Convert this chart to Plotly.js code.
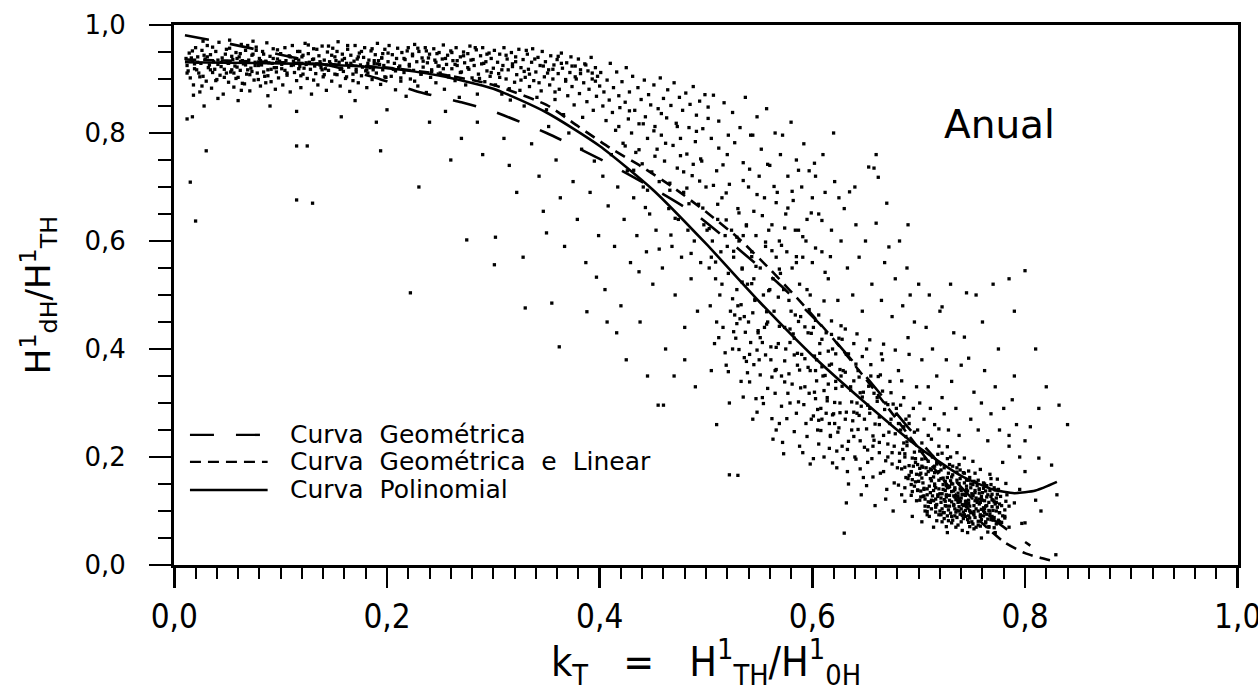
<!DOCTYPE html>
<html><head><meta charset="utf-8">
<script src="https://cdn.plot.ly/plotly-3.0.1.min.js"></script>
<style>html,body{margin:0;padding:0;background:#fff}#chart{width:1258px;height:692px}</style>
</head><body><div id="chart"></div>
<script>
// ---- fitted curves ----
const polyX = [0.01,0.05,0.10,0.15,0.20,0.25,0.30,0.35,0.40,0.45,0.50,0.55,0.60,0.65,0.70,0.74,0.77,0.79,0.81,0.83];
const polyY = [0.931,0.930,0.929,0.926,0.920,0.906,0.882,0.838,0.776,0.695,0.595,0.488,0.388,0.300,0.218,0.165,0.140,0.133,0.138,0.154];
const geoX = [0.01,0.05,0.10,0.15,0.19,0.23,0.27,0.30,0.35,0.40,0.45,0.49,0.53,0.57,0.61,0.65,0.69,0.73,0.77,0.805];
const geoY = [0.981,0.966,0.945,0.923,0.902,0.876,0.857,0.840,0.800,0.752,0.698,0.650,0.586,0.518,0.440,0.350,0.255,0.165,0.085,0.036];
const geoLinX = [0.01,0.05,0.10,0.15,0.20,0.25,0.30,0.35,0.38,0.41,0.44,0.47,0.50,0.53,0.56,0.59,0.62,0.65,0.68,0.71,0.74,0.76,0.78,0.80,0.815,0.83];
const geoLinY = [0.936,0.934,0.931,0.927,0.921,0.909,0.889,0.852,0.812,0.772,0.737,0.698,0.654,0.606,0.548,0.485,0.418,0.345,0.268,0.190,0.118,0.077,0.043,0.022,0.013,0.006];

const seriesNames = ['Curva\u00a0\u00a0Geométrica','Curva\u00a0\u00a0Geométrica\u00a0\u00a0e\u00a0\u00a0Linear','Curva\u00a0\u00a0Polinomial'];
const panelLabel = 'Anual';
const xTickVals = [0,0.2,0.4,0.6,0.8,1.0];
const xTickText = ['0,0','0,2','0,4','0,6','0,8','1,0'];
const yTickVals = [0,0.2,0.4,0.6,0.8,1.0];
const yTickText = ['0,0','0,2','0,4','0,6','0,8','1,0'];

// ---- measured daily points (kT, Hd/H), read region by region ----
const ptsBand1 = [[.012,.925],[.014,.948],[.015,.902],[.017,.934],[.018,.889],[.02,.958],[.021,.917],[.022,.941],[.024,.876],[.025,.929],[.026,.953],[.027,.905],[.029,.937],[.03,.896],[.031,.962],[.032,.921],[.034,.945],[.035,.883],[.036,.912],[.037,.932],[.039,.951],[.04,.899],[.041,.927],[.042,.968],[.043,.907],[.045,.939],[.046,.872],[.047,.918],[.048,.946],[.05,.93],[.051,.894],[.052,.957],[.053,.913],[.055,.936],[.056,.885],[.057,.924],[.058,.949],[.06,.903],[.061,.941],[.062,.916],[.063,.964],[.065,.928],[.066,.891],[.067,.953],[.068,.909],[.07,.935],[.071,.878],[.072,.92],[.073,.944],[.075,.898],[.076,.931],[.077,.959],[.078,.911],[.08,.938],[.081,.887],[.082,.926],[.083,.951],[.085,.905],[.086,.933],[.087,.967],[.088,.917],[.09,.942],[.091,.895],[.092,.929],[.093,.956],[.095,.881],[.096,.913],[.097,.937],[.098,.902],[.1,.947],[.013,.915],[.016,.939],[.019,.928],[.023,.911],[.028,.944],[.033,.926],[.038,.918],[.044,.931],[.049,.911],[.054,.942],[.059,.922],[.064,.934],[.069,.917],[.074,.946],[.079,.925],[.084,.913],[.089,.93],[.094,.921],[.099,.933],[.018,.87],[.041,.864],[.063,.879],[.088,.869],[.052,.972],[.027,.97],[.074,.97]];
const ptsBand2 = [[.101,.919],[.102,.889],[.104,.958],[.105,.934],[.106,.907],[.108,.943],[.109,.876],[.11,.925],[.111,.962],[.113,.912],[.114,.938],[.115,.897],[.116,.951],[.118,.923],[.119,.884],[.12,.941],[.121,.909],[.123,.966],[.124,.93],[.125,.901],[.126,.947],[.128,.918],[.129,.872],[.13,.936],[.131,.956],[.133,.91],[.134,.928],[.135,.889],[.136,.943],[.138,.921],[.139,.961],[.14,.904],[.141,.935],[.143,.879],[.144,.95],[.145,.916],[.146,.932],[.148,.896],[.149,.957],[.15,.925],[.151,.941],[.153,.908],[.154,.969],[.155,.931],[.156,.887],[.158,.946],[.159,.914],[.16,.938],[.161,.901],[.163,.955],[.164,.922],[.165,.877],[.166,.944],[.168,.909],[.169,.933],[.17,.962],[.171,.918],[.173,.893],[.174,.948],[.175,.926],[.176,.906],[.178,.94],[.179,.958],[.18,.915],[.181,.884],[.183,.935],[.184,.921],[.185,.952],[.186,.899],[.188,.929],[.189,.945],[.19,.911],[.191,.966],[.193,.927],[.194,.89],[.195,.939],[.196,.917],[.198,.955],[.199,.903],[.103,.93],[.112,.926],[.117,.935],[.122,.92],[.127,.931],[.132,.924],[.137,.932],[.142,.919],[.147,.928],[.152,.934],[.157,.92],[.162,.929],[.167,.925],[.172,.937],[.177,.922],[.182,.929],[.187,.917],[.192,.934],[.197,.925]];
const ptsBand3 = [[.201,.932],[.202,.962],[.204,.905],[.205,.945],[.206,.918],[.208,.88],[.209,.938],[.21,.957],[.212,.924],[.213,.896],[.214,.949],[.216,.912],[.217,.936],[.218,.868],[.22,.958],[.221,.927],[.222,.9],[.224,.943],[.225,.916],[.226,.964],[.228,.932],[.229,.887],[.23,.951],[.232,.909],[.233,.939],[.234,.922],[.236,.958],[.237,.875],[.238,.93],[.24,.946],[.241,.903],[.242,.917],[.244,.956],[.245,.935],[.246,.893],[.248,.924],[.249,.949],[.25,.911],[.252,.937],[.253,.963],[.254,.881],[.256,.927],[.257,.944],[.258,.906],[.26,.952],[.261,.919],[.262,.934],[.264,.897],[.265,.958],[.266,.925],[.268,.866],[.269,.941],[.27,.913],[.272,.95],[.273,.93],[.274,.889],[.276,.947],[.277,.918],[.278,.961],[.28,.902],[.281,.936],[.282,.925],[.284,.954],[.285,.872],[.286,.909],[.288,.943],[.289,.928],[.29,.958],[.292,.895],[.293,.932],[.294,.915],[.296,.948],[.297,.905],[.298,.938],[.3,.92]];
const ptsBand4 = [[.301,.953],[.302,.889],[.304,.931],[.305,.91],[.306,.946],[.308,.872],[.309,.925],[.31,.958],[.312,.9],[.313,.937],[.314,.917],[.316,.861],[.317,.949],[.318,.928],[.32,.894],[.321,.941],[.322,.908],[.324,.955],[.325,.879],[.326,.921],[.328,.936],[.329,.85],[.33,.903],[.332,.946],[.333,.918],[.334,.886],[.336,.931],[.337,.956],[.338,.897],[.34,.913],[.341,.866],[.342,.94],[.344,.925],[.345,.878],[.346,.951],[.348,.904],[.349,.932],[.35,.843],[.352,.917],[.353,.889],[.354,.943],[.356,.9],[.357,.926],[.358,.862],[.36,.936],[.361,.91],[.362,.881],[.364,.948],[.365,.92],[.366,.834],[.368,.896],[.369,.93],[.37,.869],[.372,.912],[.373,.941],[.374,.886],[.376,.852],[.377,.924],[.378,.9],[.38,.937],[.381,.873],[.382,.91],[.384,.829],[.385,.893],[.386,.928],[.388,.858],[.389,.915],[.39,.881],[.392,.94],[.393,.9],[.394,.842],[.396,.921],[.397,.868],[.398,.905],[.4,.887]];
const ptsBandExtra = [[.034,.917],[.121,.944],[.058,.901],[.187,.921],[.246,.931],[.093,.938],[.151,.909],[.272,.943],[.017,.952],[.213,.902],[.076,.925],[.134,.955],[.298,.912],[.041,.935],[.168,.897],[.229,.957],[.104,.916],[.062,.947],[.195,.939],[.258,.904],[.012,.911],[.143,.926],[.086,.893],[.221,.924],[.283,.958],[.047,.903],[.176,.951],[.117,.919],[.239,.939],[.069,.962],[.158,.935],[.208,.915],[.026,.887],[.264,.927],[.097,.954],[.182,.911],[.131,.898],[.051,.929],[.247,.947],[.109,.941],[.291,.929],[.073,.914],[.163,.962],[.226,.896],[.036,.959],[.139,.917],[.201,.948],[.081,.934],[.269,.912],[.119,.906],[.054,.917],[.191,.928],[.253,.919],[.022,.931],[.148,.944],[.234,.933],[.101,.927],[.064,.892],[.173,.941],[.279,.935],[.044,.923],[.126,.963],[.216,.938],[.088,.906],[.156,.918],[.261,.949],[.031,.941],[.198,.904],[.112,.933],[.077,.953],[.242,.914],[.141,.908],[.186,.956],[.059,.938],[.287,.901],[.096,.921],[.166,.929],[.224,.946],[.019,.919],[.131,.937],[.207,.929],[.071,.908],[.255,.938],[.153,.951],[.039,.897],[.181,.917],[.118,.951],[.276,.921],[.084,.946],[.232,.909],[.011,.938],[.162,.904],[.106,.911],[.219,.952],[.049,.955],[.294,.946],[.137,.926],[.067,.926],[.188,.934],[.249,.924],[.024,.904],[.145,.961],[.211,.921],[.091,.918],[.171,.913],[.266,.934],[.056,.911],[.124,.927],[.237,.952],[.079,.899],[.196,.947],[.308,.917],[.321,.932],[.334,.909],[.347,.924],[.312,.944],[.326,.898],[.339,.937],[.351,.911],[.364,.929],[.377,.904],[.318,.923],[.343,.893],[.356,.918],[.368,.899],[.382,.917],[.396,.896],[.331,.953],[.361,.942],[.387,.926],[.306,.903],[.315,.882],[.329,.914],[.358,.876],[.374,.924],[.393,.911]];
const ptsUpperMid = [[.401,.912],[.403,.85],[.404,.876],[.406,.823],[.407,.898],[.409,.861],[.41,.929],[.412,.838],[.413,.884],[.415,.805],[.416,.913],[.418,.869],[.419,.847],[.421,.895],[.422,.781],[.424,.857],[.425,.921],[.427,.826],[.428,.876],[.43,.8],[.431,.905],[.433,.842],[.434,.764],[.436,.884],[.437,.817],[.439,.862],[.44,.743],[.442,.898],[.443,.83],[.445,.79],[.446,.871],[.448,.852],[.449,.728],[.451,.889],[.452,.812],[.454,.77],[.455,.845],[.457,.902],[.458,.796],[.46,.864],[.461,.748],[.463,.828],[.464,.88],[.466,.707],[.467,.851],[.469,.777],[.47,.893],[.472,.818],[.473,.735],[.475,.866],[.476,.79],[.478,.842],[.479,.69],[.481,.874],[.482,.761],[.484,.81],[.485,.853],[.487,.721],[.488,.886],[.49,.784],[.491,.833],[.493,.668],[.494,.859],[.496,.748],[.497,.808],[.499,.871],[.5,.7]];
const ptsLowerMid = [[.302,.607],[.301,.556],[.275,.602],[.328,.57],[.35,.615],[.355,.485],[.33,.476],[.388,.469],[.416,.43],[.362,.404],[.397,.533],[.437,.543],[.31,.79],[.315,.74],[.322,.69],[.336,.78],[.343,.72],[.347,.655],[.352,.812],[.359,.75],[.363,.68],[.367,.59],[.371,.8],[.375,.71],[.379,.64],[.383,.77],[.387,.56],[.391,.69],[.395,.748],[.399,.61],[.403,.72],[.405,.51],[.408,.665],[.411,.76],[.414,.59],[.417,.7],[.42,.48],[.423,.64],[.426,.73],[.429,.56],[.432,.68],[.435,.61],[.438,.45],[.441,.7],[.444,.58],[.447,.65],[.45,.52],[.453,.62],[.456,.71],[.459,.55],[.462,.4],[.465,.66],[.468,.59],[.471,.5],[.474,.64],[.477,.57],[.48,.44],[.483,.62],[.486,.53],[.489,.6],[.492,.47],[.495,.56],[.498,.63],[.455,.296],[.46,.296],[.425,.38],[.407,.45],[.445,.35],[.47,.35]];
const ptsOutlierLeft = [[.012,.826],[.017,.83],[.028,.85],[.03,.767],[.015,.709],[.02,.637],[.115,.84],[.115,.776],[.125,.776],[.115,.676],[.157,.83],[.194,.767],[.2,.843],[.222,.504],[.13,.67],[.06,.86],[.09,.85],[.24,.82],[.27,.79],[.26,.75],[.23,.7],[.19,.82],[.17,.86],[.255,.84],[.285,.82],[.29,.76]];
const ptsMidUpper = [[.502,.848],[.505,.79],[.507,.87],[.51,.73],[.512,.822],[.515,.68],[.517,.856],[.52,.76],[.522,.705],[.525,.838],[.527,.782],[.53,.66],[.532,.81],[.535,.745],[.537,.866],[.54,.7],[.542,.796],[.544,.796],[.545,.655],[.548,.83],[.55,.72],[.552,.77],[.555,.68],[.557,.845],[.56,.74],[.562,.63],[.565,.8],[.567,.69],[.57,.76],[.572,.796],[.575,.65],[.577,.72],[.58,.82],[.582,.675],[.585,.75],[.587,.62],[.59,.7],[.592,.78],[.595,.64],[.597,.73],[.6,.68],[.602,.744]];
const ptsMidExtra = [[.462,.781],[.507,.703],[.441,.817],[.531,.652],[.488,.742],[.556,.598],[.473,.812],[.519,.689],[.452,.757],[.574,.624],[.497,.661],[.541,.733],[.428,.841],[.585,.571],[.512,.772],[.466,.694],[.553,.647],[.437,.769],[.526,.581],[.491,.803],[.564,.701],[.479,.728],[.547,.553],[.503,.623],[.418,.812],[.591,.608],[.458,.836],[.535,.712],[.484,.669],[.569,.548],[.445,.694],[.521,.796],[.599,.652],[.471,.642],[.548,.686],[.509,.561],[.432,.731],[.581,.692],[.494,.711],[.562,.582],[.476,.758],[.538,.628],[.451,.804],[.603,.587],[.516,.741],[.486,.577],[.577,.661],[.443,.662],[.529,.607],[.502,.827],[.612,.542],[.467,.611],[.558,.742],[.424,.776],[.543,.571],[.519,.639],[.587,.731],[.482,.698],[.609,.638],[.456,.585],[.566,.671],[.495,.752],[.534,.548],[.571,.592],[.511,.668],[.617,.571]];
const ptsMidLower = [[.501,.62],[.503,.55],[.504,.48],[.506,.6],[.508,.41],[.509,.53],[.511,.64],[.513,.5],[.514,.58],[.516,.44],[.518,.61],[.519,.37],[.521,.54],[.523,.47],[.524,.62],[.526,.57],[.528,.42],[.529,.51],[.531,.6],[.533,.34],[.534,.55],[.536,.46],[.538,.63],[.539,.52],[.541,.39],[.543,.58],[.546,.49],[.547,.61],[.549,.43],[.551,.55],[.553,.31],[.554,.5],[.556,.59],[.558,.45],[.559,.62],[.561,.38],[.563,.53],[.564,.47],[.566,.57],[.568,.41],[.569,.6],[.571,.35],[.573,.51],[.574,.44],[.576,.58],[.578,.49],[.579,.3],[.581,.55],[.583,.42],[.584,.62],[.586,.37],[.588,.52],[.589,.46],[.591,.57],[.593,.33],[.594,.6],[.596,.43],[.598,.5],[.599,.27],[.6,.56],[.505,.57],[.51,.45],[.515,.52],[.52,.59],[.525,.4],[.53,.48],[.535,.61],[.54,.45],[.545,.53],[.55,.38],[.555,.44],[.56,.51],[.565,.36],[.57,.54],[.575,.4],[.58,.47],[.585,.56],[.59,.39],[.595,.51],[.598,.36],[.522,.3],[.544,.27],[.566,.25],[.588,.22],[.53,.166],[.522,.167],[.51,.26],[.49,.33],[.48,.38],[.505,.36]];
const ptsCloudExtra = [[.553,.412],[.617,.238],[.581,.335],[.642,.281],[.527,.463],[.598,.187],[.664,.352],[.571,.294],[.609,.418],[.538,.377],[.685,.214],[.622,.327],[.559,.508],[.633,.173],[.594,.262],[.676,.298],[.512,.421],[.647,.386],[.587,.451],[.703,.183],[.566,.362],[.625,.254],[.541,.339],[.658,.231],[.603,.308],[.579,.412],[.691,.262],[.534,.524],[.618,.372],[.651,.147],[.572,.227],[.611,.489],[.684,.341],[.548,.283],[.637,.302],[.596,.366],[.669,.193],[.521,.358],[.585,.281],[.628,.418],[.663,.274],[.557,.446],[.606,.224],[.644,.348],[.531,.399],[.677,.152],[.593,.441],[.619,.189],[.565,.318],[.652,.296],[.544,.467],[.688,.238],[.612,.351],[.574,.378],[.639,.238],[.601,.276],[.666,.322],[.537,.431],[.626,.282],[.583,.247],[.655,.371],[.548,.398],[.694,.198],[.614,.304],[.569,.442],[.641,.196],[.589,.328],[.672,.246],[.525,.493],[.631,.357],[.562,.271],[.607,.392],[.679,.279],[.551,.352],[.623,.211],[.597,.473],[.659,.261],[.535,.311],[.645,.319],[.578,.354],[.616,.262],[.682,.207],[.543,.521],[.634,.391],[.591,.208],[.668,.288],[.556,.389],[.604,.341],[.649,.218],[.529,.447],[.674,.319],[.586,.392],[.621,.301],[.563,.233],[.638,.267],[.599,.429],[.687,.181],[.547,.308],[.627,.443],[.576,.271],[.656,.197],[.518,.393],[.613,.281],[.662,.349],[.568,.496],[.643,.251],[.592,.297],[.681,.262],[.539,.356],[.608,.249],[.653,.331],[.582,.428],[.629,.197],[.558,.327],[.671,.224],[.602,.387],[.636,.324],[.549,.434],[.696,.246],[.618,.427],[.573,.206],[.646,.294],[.588,.361],[.667,.173],[.533,.482],[.624,.246],[.561,.404],[.657,.239],[.606,.268],[.683,.296],[.545,.371],[.632,.283],[.595,.238],[.673,.262],[.554,.299],[.615,.396],[.648,.162],[.577,.318],[.689,.228],[.526,.432],[.639,.341],[.584,.463],[.661,.303],[.569,.262],[.611,.323],[.654,.281],[.542,.412],[.626,.362],[.593,.382],[.675,.208],[.557,.469],[.634,.229],[.601,.197],[.665,.391],[.536,.384],[.619,.278],[.579,.437],[.647,.311],[.691,.276],[.562,.348],[.609,.367],[.652,.213],[.587,.302],[.628,.331],[.546,.492],[.678,.243],[.603,.453],[.641,.372],[.574,.339],[.663,.227],[.551,.421],[.616,.216],[.597,.318],[.686,.256],[.532,.456],[.644,.277],[.583,.389],[.658,.318],[.566,.403],[.622,.391],[.605,.288],[.671,.297]];
const ptsRightUpper = [[.603,.72],[.606,.65],[.609,.58],[.612,.69],[.615,.53],[.618,.62],[.621,.71],[.624,.49],[.627,.6],[.63,.66],[.633,.55],[.635,.691],[.638,.5],[.641,.63],[.644,.57],[.647,.47],[.65,.6],[.653,.737],[.656,.52],[.658,.735],[.66,.633],[.662,.718],[.665,.49],[.668,.56],[.672,.589],[.675,.46],[.678,.53],[.682,.6],[.685,.48],[.689,.55],[.692,.5],[.696,.45],[.7,.52],[.64,.7],[.61,.76],[.62,.8],[.67,.67],[.69,.63],[.66,.76],[.625,.68]];
const ptsRightLower = [[.601,.44],[.602,.32],[.604,.38],[.605,.25],[.607,.41],[.608,.29],[.61,.35],[.611,.2],[.613,.43],[.614,.31],[.616,.37],[.617,.24],[.619,.4],[.62,.28],[.622,.34],[.623,.18],[.625,.42],[.626,.3],[.628,.22],[.629,.36],[.631,.27],[.632,.39],[.634,.15],[.636,.33],[.637,.25],[.639,.41],[.64,.2],[.642,.3],[.643,.36],[.645,.23],[.646,.13],[.648,.32],[.649,.27],[.651,.4],[.652,.19],[.654,.29],[.655,.35],[.657,.22],[.659,.11],[.661,.31],[.663,.26],[.664,.17],[.666,.38],[.667,.24],[.669,.3],[.67,.14],[.671,.2],[.673,.34],[.674,.27],[.676,.1],[.677,.22],[.679,.29],[.68,.18],[.681,.36],[.683,.25],[.684,.13],[.686,.31],[.687,.2],[.688,.27],[.69,.16],[.691,.39],[.693,.23],[.694,.09],[.695,.29],[.697,.19],[.698,.33],[.699,.25],[.632,.115],[.63,.059],[.603,.36],[.609,.27],[.615,.335],[.621,.262],[.627,.35],[.633,.214],[.639,.283],[.645,.178],[.651,.252],[.657,.163],[.663,.208],[.669,.122],[.675,.187],[.681,.148],[.687,.118],[.693,.172],[.699,.138],[.606,.463],[.618,.452],[.631,.437],[.642,.428],[.654,.417],[.667,.409],[.678,.398],[.69,.421]];
const ptsCluster = [[.701,.12],[.702,.17],[.703,.08],[.704,.21],[.705,.14],[.706,.1],[.707,.18],[.708,.13],[.709,.24],[.71,.09],[.711,.16],[.712,.12],[.713,.2],[.714,.07],[.715,.15],[.716,.11],[.717,.19],[.718,.13],[.719,.22],[.72,.1],[.721,.16],[.722,.08],[.723,.14],[.724,.18],[.725,.11],[.726,.13],[.727,.06],[.728,.17],[.729,.12],[.73,.2],[.731,.09],[.732,.15],[.733,.11],[.734,.14],[.735,.07],[.736,.18],[.737,.12],[.738,.1],[.739,.16],[.74,.08],[.741,.13],[.742,.11],[.743,.17],[.744,.09],[.745,.14],[.746,.06],[.747,.12],[.748,.1],[.749,.15],[.75,.08],[.751,.13],[.752,.11],[.753,.17],[.754,.07],[.755,.12],[.756,.1],[.757,.14],[.758,.09],[.759,.05],[.76,.12],[.761,.1],[.762,.15],[.763,.08],[.764,.11],[.765,.13],[.766,.07],[.767,.1],[.768,.16],[.769,.09],[.77,.12],[.772,.06],[.773,.1],[.775,.14],[.776,.08],[.778,.11],[.779,.19],[.781,.09],[.783,.13],[.785,.07],[.7,.155],[.704,.127],[.708,.093],[.712,.176],[.716,.143],[.721,.124],[.724,.097],[.729,.146],[.732,.083],[.737,.127],[.74,.104],[.745,.157],[.748,.087],[.753,.134],[.756,.074],[.761,.106],[.764,.094],[.768,.127],[.773,.116],[.776,.097],[.706,.197],[.715,.183],[.722,.207],[.731,.163],[.738,.186],[.747,.174],[.754,.153],[.763,.137],[.771,.143],[.703,.226],[.712,.233],[.719,.252],[.727,.219],[.736,.208],[.743,.198],[.751,.192],[.758,.177],[.767,.168],[.774,.159],[.782,.151],[.709,.108],[.733,.128],[.741,.092],[.759,.121],[.77,.083],[.725,.155],[.752,.099],[.744,.118]];
const ptsClusterExtra = [[.722,.132],[.748,.071],[.703,.196],[.761,.142],[.735,.098],[.714,.163],[.771,.088],[.689,.221],[.744,.129],[.728,.082],[.757,.113],[.697,.154],[.736,.172],[.765,.061],[.712,.104],[.751,.149],[.682,.192],[.739,.117],[.719,.141],[.774,.107],[.706,.122],[.747,.091],[.731,.151],[.759,.084],[.693,.173],[.726,.109],[.769,.131],[.717,.187],[.741,.064],[.754,.124],[.699,.139],[.733,.137],[.762,.097],[.709,.173],[.745,.108],[.724,.121],[.778,.079],[.687,.206],[.738,.151],[.752,.067],[.716,.098],[.766,.116],[.729,.186],[.704,.152],[.757,.133],[.742,.086],[.721,.116],[.773,.124],[.695,.183],[.735,.121],[.749,.143],[.711,.134],[.763,.078],[.727,.162],[.701,.211],[.744,.101],[.756,.157],[.718,.127],[.781,.102],[.691,.166],[.737,.074],[.768,.149],[.714,.119],[.746,.137],[.723,.097],[.759,.103],[.707,.168],[.734,.143],[.771,.069],[.684,.178],[.741,.131],[.728,.102],[.753,.088],[.697,.197],[.719,.157],[.764,.126],[.731,.117],[.748,.162],[.702,.126],[.776,.113],[.739,.094],[.713,.201],[.758,.072],[.725,.138],[.693,.149],[.745,.118],[.767,.094],[.717,.112],[.732,.167],[.754,.104],[.708,.141],[.772,.139],[.736,.088],[.721,.176],[.762,.119],[.698,.168],[.743,.152],[.727,.091],[.751,.128],[.711,.116],[.779,.091],[.686,.226],[.738,.108],[.757,.141],[.715,.147],[.765,.085],[.729,.129],[.704,.181],[.747,.079],[.723,.149],[.769,.108],[.694,.136],[.734,.104],[.755,.116],[.719,.093],[.742,.171],[.706,.109],[.774,.131],[.731,.078],[.761,.152],[.688,.162],[.726,.147],[.749,.097],[.713,.128],[.766,.071],[.737,.133],[.701,.167],[.758,.093],[.722,.104],[.745,.146],[.782,.118],[.709,.192],[.733,.112],[.753,.138],[.717,.082],[.77,.101],[.696,.209],[.74,.124],[.727,.197],[.763,.109],[.71,.146],[.747,.114],[.724,.086],[.776,.097],[.691,.184],[.736,.157],[.759,.127],[.715,.171],[.743,.093],[.702,.137],[.767,.138],[.73,.096],[.752,.155],[.72,.132],[.785,.109],[.698,.119],[.739,.141],[.756,.081],[.712,.156],[.771,.117],[.734,.126],[.748,.109],[.726,.071],[.705,.128],[.761,.091],[.741,.112],[.718,.205],[.775,.083],[.694,.158],[.732,.183],[.757,.122],[.708,.099],[.744,.131],[.764,.147],[.723,.161],[.751,.076],[.699,.186],[.737,.116],[.769,.121],[.714,.138],[.729,.109],[.755,.147],[.687,.143],[.746,.084],[.721,.093],[.777,.127],[.703,.161],[.739,.176],[.762,.104],[.716,.122],[.734,.091],[.75,.132],[.727,.143],[.773,.076],[.709,.117],[.742,.098],[.758,.116],[.693,.129],[.731,.136],[.766,.101],[.719,.173],[.747,.157],[.705,.142],[.781,.087],[.736,.101],[.753,.119],[.725,.118],[.768,.084],[.711,.178],[.744,.112],[.696,.146],[.76,.134],[.73,.156],[.716,.107],[.752,.093],[.74,.138],[.772,.113],[.701,.179],[.726,.126]];
const ptsRightEdge = [[.701,.3],[.703,.38],[.705,.27],[.707,.44],[.709,.33],[.711,.29],[.713,.4],[.715,.26],[.717,.35],[.72,.47],[.722,.31],[.724,.28],[.726,.38],[.728,.25],[.731,.34],[.733,.43],[.735,.29],[.738,.24],[.74,.37],[.743,.422],[.745,.504],[.747,.383],[.749,.27],[.752,.32],[.754,.5],[.756,.25],[.759,.3],[.762,.36],[.765,.23],[.768,.28],[.772,.33],[.776,.25],[.78,.29],[.785,.22],[.788,.306],[.792,.26],[.795,.2],[.722,.478],[.73,.52],[.76,.45],[.775,.4],[.71,.5],[.785,.53],[.8,.173],[.79,.115],[.81,.12],[.8,.078],[.813,.29],[.832,.296],[.813,.198],[.825,.185],[.797,.077],[.829,.019],[.785,.24],[.8,.23],[.805,.256],[.795,.14],[.82,.33],[.81,.4],[.79,.35],[.84,.26],[.83,.13],[.815,.1],[.8,.545],[.79,.47],[.77,.52]];

const allPts = [].concat(ptsBand1, ptsBand2, ptsBand3, ptsBand4, ptsBandExtra, ptsUpperMid, ptsLowerMid, ptsOutlierLeft, ptsMidUpper, ptsMidExtra, ptsMidLower, ptsCloudExtra, ptsRightUpper, ptsRightLower, ptsCluster, ptsClusterExtra, ptsRightEdge);

const LONG = '24px,22px', SHORT = '11px,7px';
const traces = [
  {type:'scatter', mode:'markers', x: allPts.map(p=>p[0]), y: allPts.map(p=>p[1]), marker:{color:'#000', size:3.3, symbol:'square'}, showlegend:false, hoverinfo:'skip'},
  {type:'scatter', mode:'lines', name: seriesNames[0], x: geoX, y: geoY, line:{color:'#000', width:2.6, dash:LONG, shape:'spline', smoothing:0.6}, showlegend:false},
  {type:'scatter', mode:'lines', name: seriesNames[1], x: geoLinX, y: geoLinY, line:{color:'#000', width:2.6, dash:SHORT, shape:'spline', smoothing:0.6}, showlegend:false},
  {type:'scatter', mode:'lines', name: seriesNames[2], x: polyX, y: polyY, line:{color:'#000', width:2.6, shape:'spline', smoothing:0.6}, showlegend:false}
];

const legDash = [LONG, SHORT, 'solid'];
const legY = [0.241, 0.191, 0.139];
const shapes = legY.map((yy,i)=>({type:'line', xref:'paper', yref:'paper', x0:0.015, x1:0.088, y0:yy, y1:yy, line:{color:'#000', width:2.4, dash:legDash[i]}}));
const annotations = legY.map((yy,i)=>({xref:'paper', yref:'paper', x:0.107, y:yy, xanchor:'left', yanchor:'middle', text: seriesNames[i], showarrow:false, font:{family:'DejaVu Sans', size:25, color:'#000'}}));
annotations.push({xref:'x', yref:'y', x:0.776, y:0.815, text: panelLabel, showarrow:false, font:{family:'DejaVu Sans', size:39, color:'#000'}});

const xFont = 'Liberation Sans Narrow, DejaVu Sans Condensed, Liberation Sans';
const layout = {
  width:1258, height:692,
  margin:{l:174, r:20, t:25, b:127},
  paper_bgcolor:'#fff', plot_bgcolor:'#fff',
  font:{family:'DejaVu Sans', color:'#000'},
  showlegend:false,
  xaxis:{range:[-0.0003,1.0003], showgrid:false, zeroline:false, showline:true, linewidth:3, linecolor:'#000', mirror:true,
    tickmode:'array', tickvals:xTickVals, ticktext:xTickText, ticks:'outside', ticklen:20, tickwidth:2.5, tickcolor:'#000',
    ticklabeloverflow:'allow',
    minor:{tickmode:'linear', tick0:0, dtick:0.02, ticks:'outside', ticklen:11, tickwidth:2, tickcolor:'#000', showgrid:false},
    tickfont:{family:xFont, size:33, color:'#000'},
    title:{text:'k<sub>T</sub>\u00a0\u00a0\u00a0=\u00a0\u00a0\u00a0H<sup>1</sup><sub>TH</sub>/H<sup>1</sup><sub>0H</sub>\u00a0\u00a0\u00a0\u00a0\u00a0\u00a0\u00a0', font:{family:xFont, size:41, color:'#000'}, standoff:18}},
  yaxis:{range:[0,1], showgrid:false, zeroline:false, showline:true, linewidth:3, linecolor:'#000', mirror:true,
    tickmode:'array', tickvals:yTickVals, ticktext:yTickText, ticks:'outside', ticklen:22, tickwidth:2.5, tickcolor:'#000',
    minor:{tickmode:'linear', tick0:0, dtick:0.05, ticks:'outside', ticklen:13, tickwidth:2, tickcolor:'#000', showgrid:false},
    ticklabelstandoff:18,
    tickfont:{family:'DejaVu Sans', size:26, color:'#000'},
    title:{text:'H<sup>1</sup><sub>dH</sub>/H<sup>1</sup><sub>TH</sub>', font:{family:'DejaVu Sans', size:34, color:'#000'}, standoff:24}},
  shapes: shapes,
  annotations: annotations
};
Plotly.newPlot('chart', traces, layout, {staticPlot:true, displayModeBar:false});
</script>
</body></html>
